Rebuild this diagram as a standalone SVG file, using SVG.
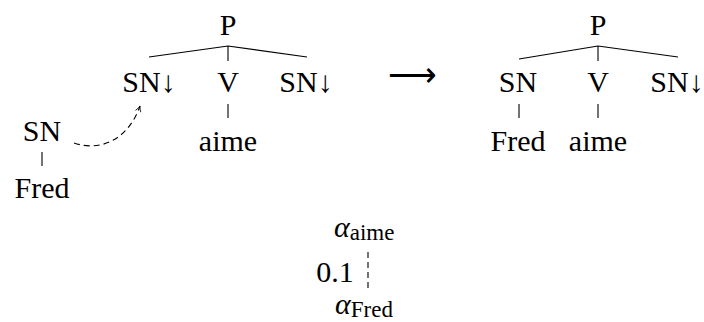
<svg xmlns="http://www.w3.org/2000/svg" width="704" height="322" viewBox="0 0 704 322">
<style>
text{font-family:'Liberation Serif',serif;font-size:30px;fill:#000;text-anchor:middle}
.sub{font-size:23px;font-style:normal}
.al{font-style:italic;text-anchor:start}
.arr{font-size:34px}
.edge{stroke:#000;stroke-width:1.1;fill:none}
.dash{stroke:#000;stroke-width:1.1;fill:none;stroke-dasharray:6 4}
.vdash{stroke:#000;stroke-width:1.1;fill:none;stroke-dasharray:6 4}
</style>
<defs>
<marker id="tip" viewBox="0 0 10 10" refX="9" refY="5" markerWidth="7" markerHeight="7" orient="auto" markerUnits="userSpaceOnUse">
<path d="M1,1 Q5,4 9,5 Q5,6 1,9" fill="none" stroke="#000" stroke-width="1.1"/>
</marker>
</defs>
<rect width="704" height="322" fill="#fff"/>
<g id="connectors">
<path class="edge" d="M228,46 L149,57 M228,46 L307,57 M228,46 L228,61"/>
<path class="edge" d="M228,104 L228,118"/>
<path class="edge" d="M42,152 L42,166"/>
<path class="dash" d="M74,143 C100,152 128,140 140,106" marker-end="url(#tip)"/>
<path class="edge" d="M598,46 L519,59 M598,46 L678,57 M598,46 L598,61"/>
<path class="edge" d="M519,104 L519,118 M598,104 L598,118"/>
<path class="vdash" d="M368,252 L368,291"/>
</g>
<g id="left-P"><text x="228" y="35">P</text></g>
<g id="left-SN1"><text x="149" y="92">SN↓</text></g>
<g id="left-V"><text x="228" y="92">V</text></g>
<g id="left-SN2"><text x="306" y="92">SN↓</text></g>
<g id="left-aime"><text x="228" y="151">aime</text></g>
<g id="init-SN"><text x="42" y="141">SN</text></g>
<g id="init-Fred"><text x="42" y="198">Fred</text></g>
<g id="arrow"><text class="arr" x="412" y="86">⟶</text></g>
<g id="right-P"><text x="598" y="35">P</text></g>
<g id="right-SN"><text x="518" y="92">SN</text></g>
<g id="right-V"><text x="598" y="92">V</text></g>
<g id="right-SN2"><text x="677" y="92">SN↓</text></g>
<g id="right-Fred"><text x="518" y="151">Fred</text></g>
<g id="right-aime"><text x="598" y="151">aime</text></g>
<g id="alpha-aime"><text class="al" x="334" y="237">α<tspan class="sub" dy="3">aime</tspan></text></g>
<g id="weight"><text x="335" y="282">0.1</text></g>
<g id="alpha-Fred"><text class="al" x="335" y="314">α<tspan class="sub" dy="3">Fred</tspan></text></g>
</svg>
